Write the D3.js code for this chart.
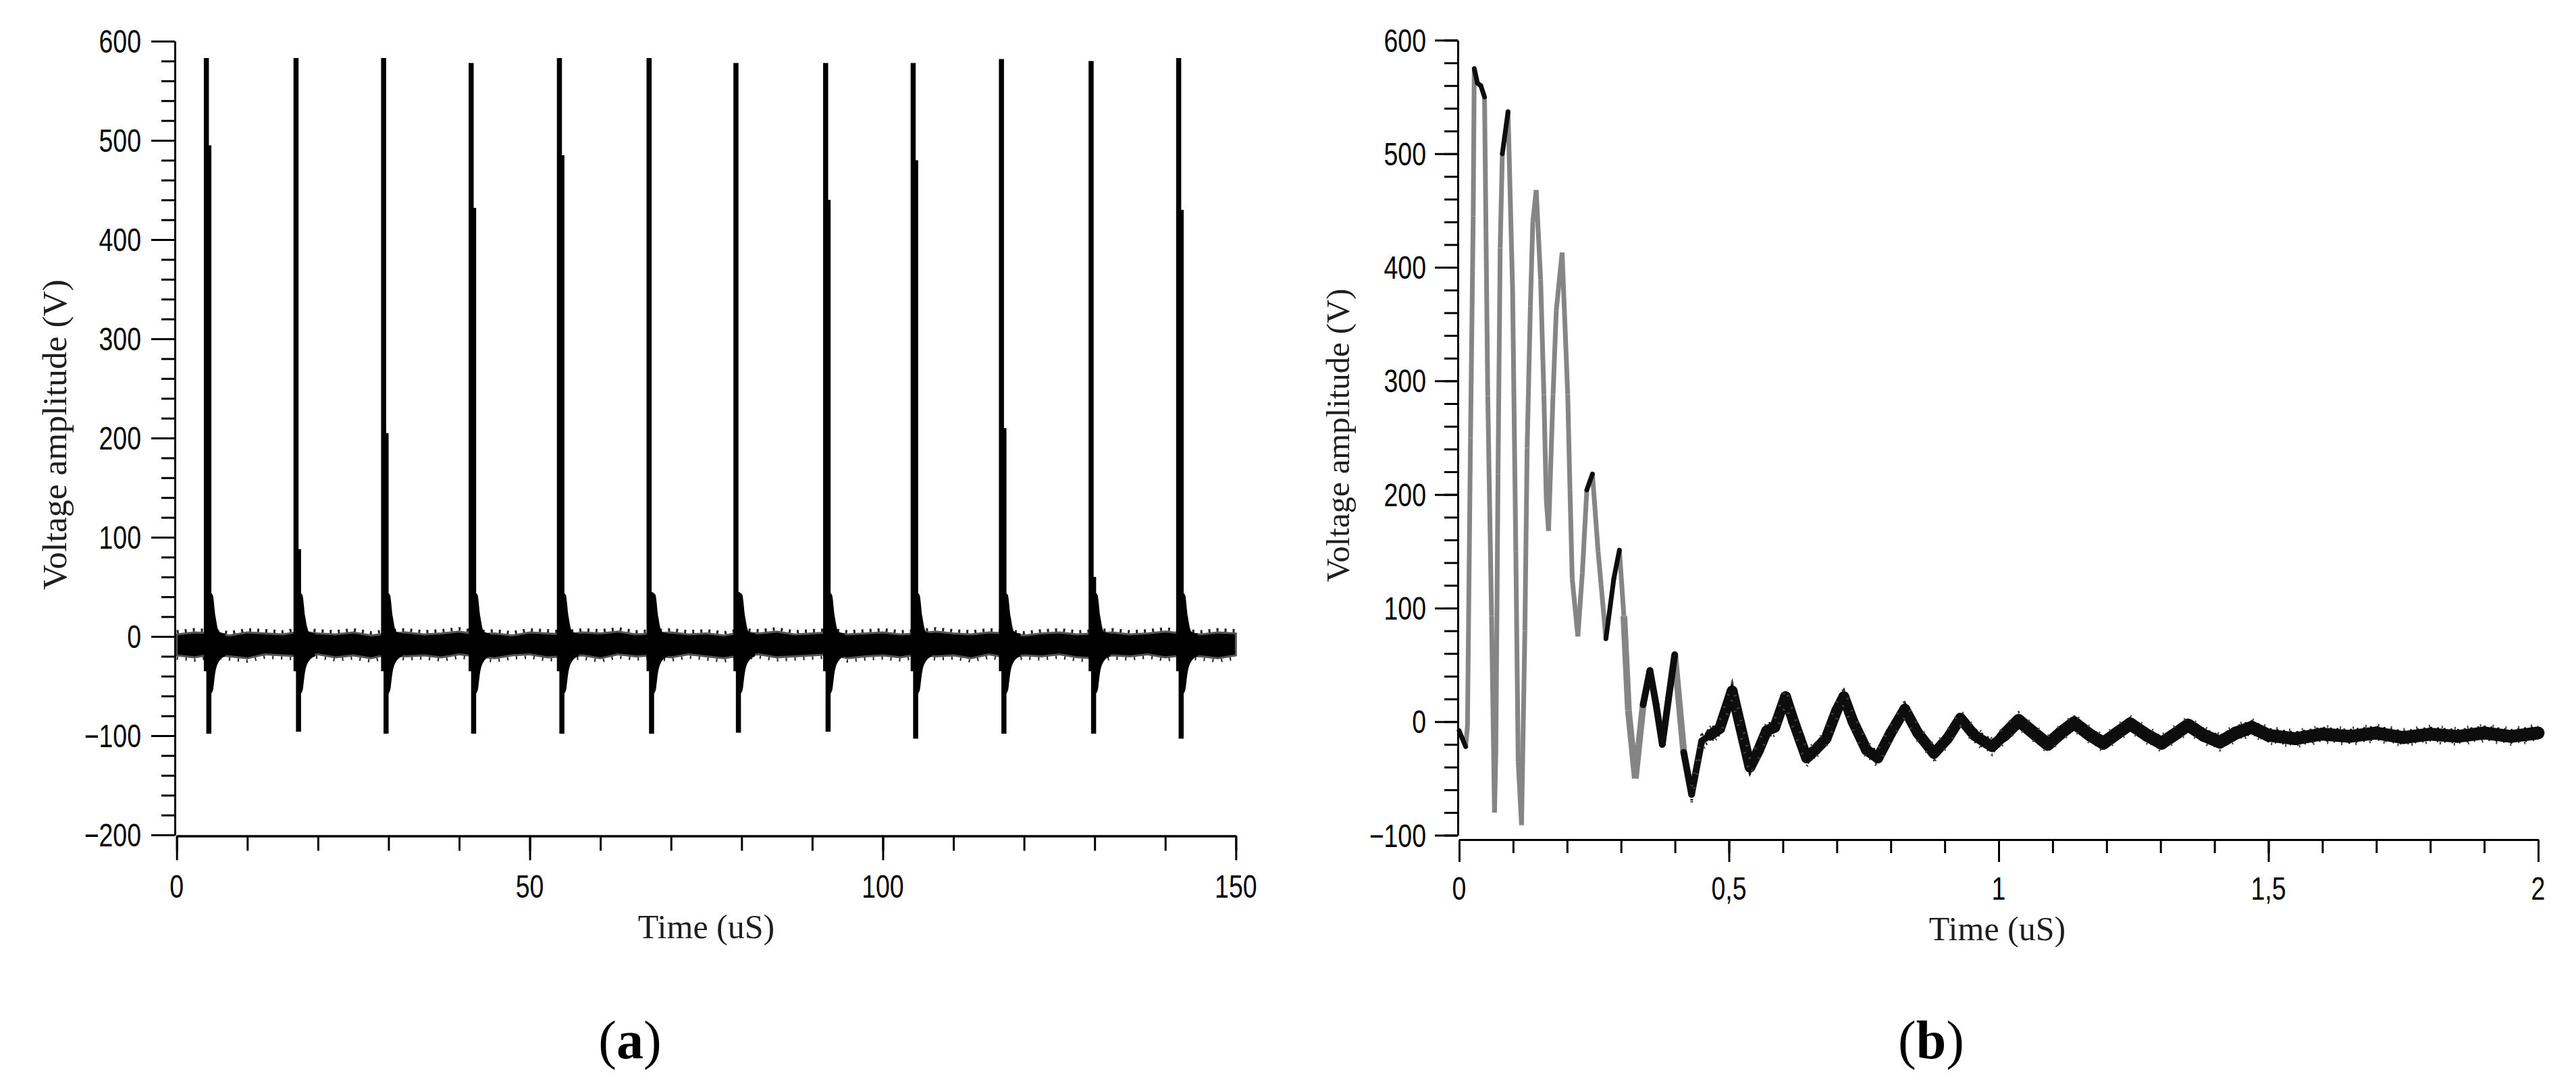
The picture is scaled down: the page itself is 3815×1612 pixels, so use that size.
<!DOCTYPE html>
<html><head><meta charset="utf-8">
<script src="https://cdn.jsdelivr.net/npm/d3@7"></script>
<style>
html,body{margin:0;padding:0;background:#fff;}
svg{display:block;}
</style></head>
<body>
<svg id="chart" width="3815" height="1612"></svg>
<script>
// ================= DATA =================
// ---- Chart (a): pulse train ----
const yTicksA = [-200, -100, 0, 100, 200, 300, 400, 500, 600];
const yTickLabelsA = ["\u2212200", "\u2212100", "0", "100", "200", "300", "400", "500", "600"];
const xTicksA = [0, 50, 100, 150];
const xTickLabelsA = ["0", "50", "100", "150"];
// pulse start times (uS) and levels (V)
const pulseTimesA  = [4.2, 16.9, 29.3, 41.7, 54.2, 66.9, 79.2, 91.9, 104.3, 116.8, 129.5, 141.9];
const pulsePeakA   = [583, 583, 583, 578, 583, 583, 578, 578, 578, 582, 580, 583];
const pulseSecondA = [495, 88, 205, 432, 485, 40, 40, 440, 480, 210, 60, 430];
const pulseMinA    = [-98, -96, -98, -98, -98, -98, -97, -96, -103, -98, -98, -103];
const spikeFloorA  = [-35];
// decaying tail after each pulse (offset in uS from pulse start)
const tailOffsetsA = [0.3, 0.9, 1.3, 1.8, 2.7];
const tailHiA      = [45, 42, 20, 5, 3];
const tailLoA      = [-60, -55, -35, -25, -20];
// baseline noise band envelope
const bandTimesA = [0,2.5,5,7.5,10,12.5,15,17.5,20,22.5,25,27.5,30,32.5,35,37.5,40,42.5,45,47.5,50,52.5,55,57.5,60,62.5,65,67.5,70,72.5,75,77.5,80,82.5,85,87.5,90,92.5,95,97.5,100,102.5,105,107.5,110,112.5,115,117.5,120,122.5,125,127.5,130,132.5,135,137.5,140,142.5,145,147.5,150];
const bandHiA = [2,4,3,1,4,3,2,5,3,2,4,1,3,4,2,3,5,2,3,1,4,3,2,4,3,5,2,3,4,2,3,1,4,3,5,2,3,4,2,3,4,2,3,5,3,2,4,3,1,3,4,2,3,4,2,3,5,3,2,4,3];
const bandLoA = [-19,-21,-18,-20,-22,-18,-19,-20,-18,-21,-19,-22,-18,-20,-19,-21,-18,-20,-22,-19,-18,-21,-20,-19,-22,-18,-20,-19,-21,-18,-20,-22,-19,-18,-21,-20,-19,-18,-22,-20,-19,-21,-18,-20,-19,-22,-18,-21,-19,-20,-18,-21,-22,-19,-20,-18,-21,-19,-20,-22,-19];

// ---- Chart (b): single damped burst ----
const yTicksB = [-100, 0, 100, 200, 300, 400, 500, 600];
const yTickLabelsB = ["\u2212100", "0", "100", "200", "300", "400", "500", "600"];
const xTicksB = [0, 0.5, 1, 1.5, 2];
const xTickLabelsB = ["0", "0,5", "1", "1,5", "2"];
const timeB = [0,0.006,0.012,0.0154,0.021,0.026,0.028,0.034,0.040,0.047,0.053,0.060,0.0655,0.068,0.072,0.076,0.080,0.0906,0.099,0.105,0.1094,0.1156,0.1218,0.126,0.132,0.1365,0.1428,0.151,0.157,0.1615,0.1657,0.174,0.180,0.1908,0.2012,0.2054,0.2095,0.220,0.2283,0.2366,0.247,0.2575,0.272,0.2867,0.297,0.3053,0.3137,0.3265,0.341,0.3536,0.365,0.3765,0.388,0.3995,0.4162,0.4308,0.4496,0.465,0.483,0.506,0.539,0.555,0.570,0.585,0.605,0.620,0.644,0.660,0.680,0.700,0.713,0.730,0.755,0.776,0.800,0.826,0.850,0.880,0.905,0.929,0.955,0.988,1.010,1.037,1.065,1.091,1.115,1.140,1.170,1.194,1.220,1.244,1.275,1.302,1.330,1.351,1.380,1.410,1.440,1.469,1.500,1.550,1.600,1.650,1.700,1.750,1.800,1.850,1.900,1.950,2.000];
const voltB = [-8,-15,-22,-4,250,445,575,562,560,550,287,93,-80,-26,218,417,500,537,381,150,-35,-91,80,241,366,440,468,389,288,195,168,288,362,413,288,204,126,75,131,204,218,150,73,126,151,93,10,-50,15,45,15,-20,20,59,-27,-64,-17,-12,-6,27,-40,-25,-8,-5,22,0,-32,-25,-15,10,22,0,-25,-32,-10,11,-10,-28,-15,3,-12,-22,-12,1,-10,-20,-10,-1,-12,-19,-10,-2,-12,-19,-10,-3,-12,-18,-10,-5,-12,-15,-11,-13,-10,-14,-11,-13,-10,-13,-10];

// ================= DRAWING =================
const svg = d3.select("#chart");
const SANS = "'Liberation Sans', Arial, sans-serif";
const SERIF = "'Liberation Serif', 'Times New Roman', serif";

// scales
const xA = d3.scaleLinear().domain([0, 150]).range([261.7, 1830.3]);
const yA = d3.scaleLinear().domain([-200, 600]).range([1237, 61]);
const xB = d3.scaleLinear().domain([0, 2]).range([2161, 3759]);
const yB = d3.scaleLinear().domain([-100, 600]).range([1237.5, 59.5]);

function styleAxis(g) {
  g.selectAll("path.domain").attr("stroke", "#000").attr("stroke-width", 3);
  g.selectAll(".tick line").attr("stroke", "#000").attr("stroke-width", 3);
  g.selectAll(".tick text").remove();
}

function drawAxes(opts) {
  const {x, y, axisX, axisY, yMajor, yMinor, yLabels, xMajor, xMinor, xLabels,
         yLen, yMinLen, xLen, xMinLen, yLabelRight, xLabelBase} = opts;
  const gy1 = svg.append("g").attr("transform", `translate(${axisX},0)`)
    .call(d3.axisLeft(y).tickValues(yMinor).tickSize(yMinLen).tickSizeOuter(0).tickFormat(""));
  styleAxis(gy1);
  const gy2 = svg.append("g").attr("transform", `translate(${axisX},0)`)
    .call(d3.axisLeft(y).tickValues(yMajor).tickSize(yLen).tickSizeOuter(0).tickFormat(""));
  styleAxis(gy2);
  const gx1 = svg.append("g").attr("transform", `translate(0,${axisY})`)
    .call(d3.axisBottom(x).tickValues(xMinor).tickSize(xMinLen).tickSizeOuter(0).tickFormat(""));
  styleAxis(gx1);
  const gx2 = svg.append("g").attr("transform", `translate(0,${axisY})`)
    .call(d3.axisBottom(x).tickValues(xMajor).tickSize(xLen).tickSizeOuter(0).tickFormat(""));
  styleAxis(gx2);
  svg.append("g").selectAll("text").data(yMajor).join("text")
    .attr("transform", (d) => `translate(${yLabelRight},${y(d) + 17}) scale(0.78,1)`)
    .attr("text-anchor", "end")
    .attr("font-family", SANS).attr("font-size", 48).attr("fill", "#000")
    .text((d, i) => yLabels[i]);
  svg.append("g").selectAll("text").data(xMajor).join("text")
    .attr("transform", (d) => `translate(${x(d)},${xLabelBase}) scale(0.78,1)`)
    .attr("text-anchor", "middle")
    .attr("font-family", SANS).attr("font-size", 48).attr("fill", "#000")
    .text((d, i) => xLabels[i]);
}

// ---------- Chart (a) ----------
const bandData = bandTimesA.map((t, i) => ({t, hi: bandHiA[i], lo: bandLoA[i]}));
const bandArea = d3.area().x(d => xA(d.t)).y0(d => yA(d.lo)).y1(d => yA(d.hi));
svg.append("path").datum(bandData)
  .attr("d", bandArea)
  .attr("fill", "#000").attr("stroke", "#555").attr("stroke-width", 3);
// ragged noise fringe on the band edges
svg.append("path").datum(bandData)
  .attr("d", d3.line().x(d => xA(d.t)).y(d => yA(d.hi)))
  .attr("fill", "none").attr("stroke", "#222").attr("stroke-width", 5)
  .attr("stroke-dasharray", "3 9").attr("transform", "translate(0,-4)");
svg.append("path").datum(bandData)
  .attr("d", d3.line().x(d => xA(d.t)).y(d => yA(d.lo)))
  .attr("fill", "none").attr("stroke", "#222").attr("stroke-width", 5)
  .attr("stroke-dasharray", "2 11").attr("transform", "translate(0,4)");

const gPulses = svg.append("g");
const colW = 7.5;
pulseTimesA.forEach((T, i) => {
  const tail = tailOffsetsA.map((o, k) => ({t: T + o, hi: tailHiA[k], lo: tailLoA[k]}));
  gPulses.append("path").datum(tail)
    .attr("d", d3.area().curve(d3.curveMonotoneX).x(d => xA(d.t)).y0(d => yA(d.lo)).y1(d => yA(d.hi)))
    .attr("fill", "#000");
  gPulses.append("rect")
    .attr("x", xA(T) - colW / 2).attr("width", colW)
    .attr("y", yA(pulsePeakA[i])).attr("height", yA(spikeFloorA[0]) - yA(pulsePeakA[i]))
    .attr("fill", "#000");
  gPulses.append("rect")
    .attr("x", xA(T + 0.35) - colW / 2).attr("width", colW)
    .attr("y", yA(pulseSecondA[i])).attr("height", yA(pulseMinA[i]) - yA(pulseSecondA[i]))
    .attr("fill", "#000");
});

drawAxes({
  x: xA, y: yA, axisX: 259, axisY: 1238.5,
  yMajor: yTicksA, yMinor: d3.range(-200, 601, 20), yLabels: yTickLabelsA,
  xMajor: xTicksA, xMinor: d3.range(0, 151, 10), xLabels: xTickLabelsA,
  yLen: 35, yMinLen: 20, xLen: 36, xMinLen: 22, yLabelRight: 209, xLabelBase: 1330
});

// ---------- Chart (b) ----------
const ptsB = timeB.map((t, i) => ({t, v: voltB[i]}));
const segs = [];
for (let i = 0; i < ptsB.length - 1; i++) {
  const a = ptsB[i], b = ptsB[i + 1];
  const dx = Math.abs(xB(b.t) - xB(a.t)), dy = Math.abs(yB(b.v) - yB(a.v));
  const steep = a.t < 0.45 && dy / Math.max(dx, 0.01) > 8;
  const w = a.t < 0.3 ? 7 : a.t < 0.45 ? 10 : a.t < 1.0 ? 16 : 19;
  segs.push({a, b, steep, w});
}
const lineB = d3.line().x(d => xB(d.t)).y(d => yB(d.v));
const gB = svg.append("g");
gB.selectAll("path.gray").data(segs.filter(s => s.steep)).join("path")
  .attr("class", "gray")
  .attr("d", s => lineB([s.a, s.b]))
  .attr("fill", "none").attr("stroke", "#858585").attr("stroke-width", s => s.w)
  .attr("stroke-linecap", "butt");
gB.selectAll("path.blk").data(segs.filter(s => !s.steep)).join("path")
  .attr("class", "blk")
  .attr("d", s => lineB([s.a, s.b]))
  .attr("fill", "none").attr("stroke", "#0d0d0d").attr("stroke-width", s => s.w)
  .attr("stroke-linecap", "round").attr("stroke-linejoin", "round");
// ragged noise texture on the ringing tail
const tailPts = ptsB.filter(d => d.t >= 0.43);
[[-9, "3 7", "#111"], [9, "2 9", "#111"], [-12, "2 17", "#444"], [12, "2 19", "#444"]].forEach(([dy, dash, col]) => {
  gB.append("path").datum(tailPts)
    .attr("d", lineB)
    .attr("transform", `translate(0,${dy})`)
    .attr("fill", "none").attr("stroke", col).attr("stroke-width", 4)
    .attr("stroke-dasharray", dash);
});

drawAxes({
  x: xB, y: yB, axisX: 2159, axisY: 1244,
  yMajor: yTicksB, yMinor: d3.range(-100, 601, 20), yLabels: yTickLabelsB,
  xMajor: xTicksB, xMinor: d3.range(0, 2.001, 0.1), xLabels: xTickLabelsB,
  yLen: 34, yMinLen: 20, xLen: 33, xMinLen: 20, yLabelRight: 2112, xLabelBase: 1333
});

// ---------- Titles ----------
function yTitle(x, y, size, len) {
  svg.append("text")
    .attr("transform", `translate(${x},${y}) rotate(-90)`)
    .attr("text-anchor", "middle")
    .attr("font-family", SERIF).attr("font-size", size).attr("fill", "#1e1e1e")
    .attr("textLength", len).attr("lengthAdjust", "spacingAndGlyphs")
    .text("Voltage amplitude (V)");
}
yTitle(98, 644, 50, 460);
yTitle(1998, 645, 48, 435);

function xTitle(x, y) {
  svg.append("text")
    .attr("x", x).attr("y", y)
    .attr("text-anchor", "middle")
    .attr("font-family", SERIF).attr("font-size", 50).attr("fill", "#1e1e1e")
    .text("Time (uS)");
}
xTitle(1046, 1390);
xTitle(2958, 1393);

function panelLabel(x, letter) {
  const t = svg.append("text")
    .attr("x", x).attr("y", 1568)
    .attr("text-anchor", "middle")
    .attr("font-family", SERIF).attr("font-size", 80).attr("fill", "#000");
  t.append("tspan").text("(");
  t.append("tspan").attr("font-weight", "bold").text(letter);
  t.append("tspan").text(")");
}
panelLabel(933, "a");
panelLabel(2860, "b");
</script>
</body></html>
